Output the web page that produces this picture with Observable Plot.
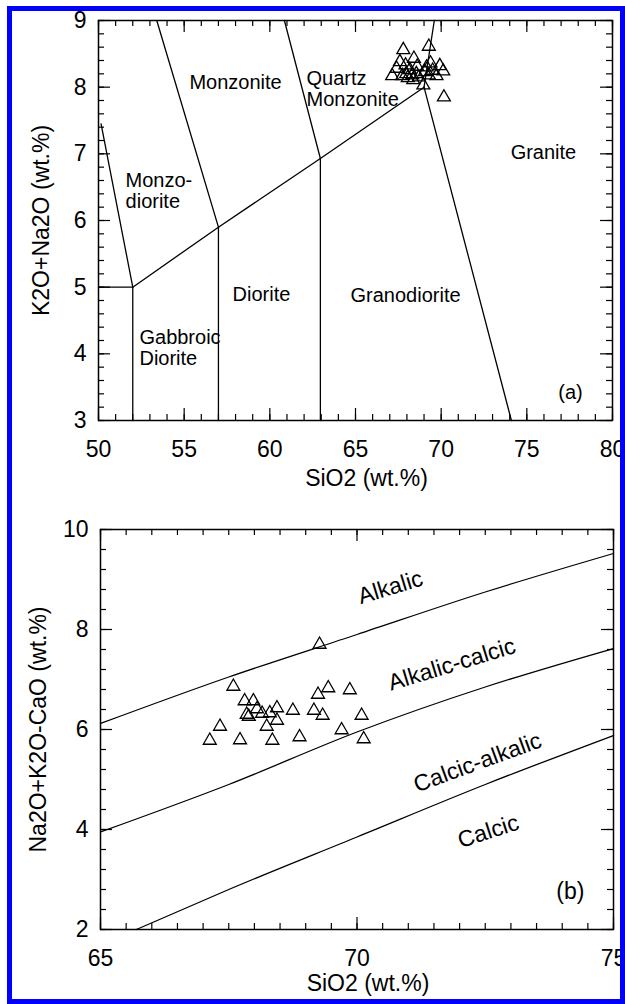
<!DOCTYPE html>
<html><head><meta charset="utf-8">
<script src="https://cdn.jsdelivr.net/npm/d3@7"></script>
<script src="https://cdn.jsdelivr.net/npm/@observablehq/plot@0.6"></script>
<style>
html,body{margin:0;padding:0;background:#fff;}
#wrap{position:relative;width:625px;height:1004px;overflow:hidden;background:#fff;}
#a{position:absolute;left:0;top:0;}
#b{position:absolute;left:0;top:500px;}
#border{position:absolute;left:7px;top:6px;width:618px;height:998px;border:5px solid #0000ff;box-sizing:border-box;z-index:10;pointer-events:none;}
</style></head><body>
<div id="wrap"><div id="a"></div><div id="b"></div><div id="border"></div></div>
<script>
// ---------- Panel (a): TAS plutonic classification ----------
const tasSiO2 = [67.79,69.28,68.41,67.59,67.40,67.92,68.17,68.60,69.38,69.92,70.12,67.14,67.73,68.31,69.05,69.28,69.73,68.37,68.96,70.16,68.70,67.96,68.05,69.50,68.55,69.15];
const tasAlk  = [8.56,8.61,8.43,8.38,8.28,8.33,8.26,8.31,8.36,8.32,8.24,8.17,8.17,8.18,8.23,8.18,8.17,8.11,8.03,7.85,8.15,8.20,8.14,8.25,8.20,8.30];

// field boundaries (SiO2, K2O+Na2O), one id per polyline
const tasBoundaryId   = ["b1","b1","b2","b2","b2","b3","b3","b3","b3","b4","b4","b5","b5","b6","b6","b7","b7","b8","b8","b9","b9"];
const tasBoundarySiO2 = [50.15,52, 50,52,52, 52,57,62.95,69, 53.4,57, 60.85,62.95, 69.6,69, 69,74.1, 57,57, 62.95,62.95];
const tasBoundaryAlk  = [7.45,5, 5,5,3, 5,5.9,6.93,8.0, 9,5.9, 9,6.93, 9,8.0, 8.0,3, 5.9,3, 6.93,3];

const tasLabelText = ["Monzonite","Quartz\nMonzonite","Monzo-\ndiorite","Diorite","Granodiorite","Granite","Gabbroic\nDiorite","(a)"];
const tasLabelSiO2 = [58.0, 62.14, 51.58, 59.51, 67.92, 75.97, 52.39, 77.55];
const tasLabelAlk  = [8.07, 7.97, 6.45, 4.90, 4.875, 7.02, 4.09, 3.42];
const tasLabelAnchor = ["middle","start","start","middle","middle","middle","start","middle"];

const xTicksA = [50,55,60,65,70,75,80];
const yTicksA = [3,4,5,6,7,8,9];

// ---------- Panel (b): MALI ----------
const maliSiO2 = [69.27,67.59,67.81,67.98,68.05,67.89,68.15,68.30,68.44,68.44,68.24,67.33,67.13,67.72,68.35,68.75,68.88,69.16,69.24,69.44,69.33,69.86,69.70,70.09,70.13,67.85];
const maliVal  = [7.70,6.86,6.57,6.57,6.41,6.26,6.32,6.33,6.43,6.18,6.06,6.06,5.78,5.79,5.78,6.38,5.85,6.38,6.70,6.83,6.28,6.79,5.99,6.28,5.81,6.30];

const curveSiO2       = [65, 67.5, 70, 72.5, 75];
const alkalicCurve    = [6.12, 7.05, 7.90, 8.75, 9.52];
const alkCalcCurve    = [3.95, 4.90, 5.95, 6.85, 7.62];
const calcicCurveSiO2 = [65.7, 67.5, 70, 72.5, 75];
const calcicCurve     = [2.00, 2.80, 3.85, 4.90, 5.88];

const maliLabelText = ["Alkalic","Alkalic-calcic","Calcic-alkalic","Calcic","(b)"];
const maliLabelSiO2 = [70.65, 71.85, 72.35, 72.56, 74.16];
const maliLabelVal  = [8.84, 7.30, 5.34, 3.96, 2.76];
const maliLabelRot  = [-17, -17, -20, -18, 0];

const xTicksB = [65,70,75];
const yTicksB = [2,4,6,8,10];

const FONT = "'Liberation Sans', Arial, Helvetica, sans-serif";

function frameTicks(xMinor, xMajor, yMinor, yMajor, innerW, innerH) {
  const minor = 6, major = 12, sw = 1.2;
  const o = {stroke: "black", strokeWidth: sw};
  return [
    Plot.tickX(xMinor, {x: d => d, insetTop: innerH - minor, ...o}),
    Plot.tickX(xMinor, {x: d => d, insetBottom: innerH - minor, ...o}),
    Plot.tickX(xMajor, {x: d => d, insetTop: innerH - major, ...o}),
    Plot.tickX(xMajor, {x: d => d, insetBottom: innerH - major, ...o}),
    Plot.tickY(yMinor, {y: d => d, insetRight: innerW - minor, ...o}),
    Plot.tickY(yMinor, {y: d => d, insetLeft: innerW - minor, ...o}),
    Plot.tickY(yMajor, {y: d => d, insetRight: innerW - major, ...o}),
    Plot.tickY(yMajor, {y: d => d, insetLeft: innerW - major, ...o}),
    Plot.frame({stroke: "black", strokeWidth: 1.5})
  ];
}

// Panel (a)
{
  const W = 625, H = 500, mL = 98, mR = 13, mT = 20, mB = 80;
  const boundaries = tasBoundaryId.map((id, i) => ({id, x: tasBoundarySiO2[i], y: tasBoundaryAlk[i]}));
  const pts = tasSiO2.map((x, i) => ({x, y: tasAlk[i]}));
  const labels = tasLabelText.map((t, i) => ({t, x: tasLabelSiO2[i], y: tasLabelAlk[i], a: tasLabelAnchor[i]}));
  const plot = Plot.plot({
    width: W, height: H, marginLeft: mL, marginRight: mR, marginTop: mT, marginBottom: mB,
    style: {fontFamily: FONT, color: "black", background: "white", overflow: "visible"},
    x: {domain: [50, 80]},
    y: {domain: [3, 9]},
    marks: [
      Plot.line(boundaries, {x: "x", y: "y", z: "id", stroke: "black", strokeWidth: 1.3}),
      ...["start","middle"].map(a => Plot.text(labels.filter(d => d.a === a), {x: "x", y: "y", text: "t", textAnchor: a, fontSize: 20, lineHeight: 1.05, fill: "black"})),
      Plot.dot(pts, {x: "x", y: "y", symbol: "triangle", r: 4.8, stroke: "black", fill: "none", strokeWidth: 1.3}),
      ...frameTicks(d3.range(50, 80.001, 1), xTicksA, d3.range(3, 9.001, 0.2), yTicksA, W - mL - mR, H - mT - mB),
      Plot.axisX(xTicksA, {tickSize: 0, tickPadding: 20, fontSize: 23, tickFormat: d => String(d), label: null}),
      Plot.axisY(yTicksA, {tickSize: 0, tickPadding: 12, fontSize: 23, tickFormat: d => String(d), label: null}),
      Plot.text(["SiO2 (wt.%)"], {frameAnchor: "bottom", dy: 58, dx: 11, textAnchor: "middle", lineAnchor: "middle", fontSize: 23, text: d => d}),
      Plot.text(["K2O+Na2O (wt.%)"], {frameAnchor: "left", dx: -57, rotate: -90, textAnchor: "middle", lineAnchor: "middle", fontSize: 23, text: d => d})
    ]
  });
  document.getElementById("a").appendChild(plot);
}

// Panel (b)
{
  const W = 625, H = 504, mL = 100, mR = 12, mT = 29, mB = 75;
  const curves = [
    ...curveSiO2.map((x, i) => ({id: "alk", x, y: alkalicCurve[i]})),
    ...curveSiO2.map((x, i) => ({id: "ac", x, y: alkCalcCurve[i]})),
    ...calcicCurveSiO2.map((x, i) => ({id: "ca", x, y: calcicCurve[i]}))
  ];
  const pts = maliSiO2.map((x, i) => ({x, y: maliVal[i]}));
  const labels = maliLabelText.map((t, i) => ({t, x: maliLabelSiO2[i], y: maliLabelVal[i], r: maliLabelRot[i]}));
  const plot = Plot.plot({
    width: W, height: H, marginLeft: mL, marginRight: mR, marginTop: mT, marginBottom: mB,
    style: {fontFamily: FONT, color: "black", background: "white", overflow: "visible"},
    x: {domain: [65, 75]},
    y: {domain: [2, 10]},
    marks: [
      Plot.line(curves, {x: "x", y: "y", z: "id", curve: "monotone-x", stroke: "black", strokeWidth: 1.3}),
      ...labels.map(d => Plot.text([d], {x: "x", y: "y", text: "t", rotate: d.r, fontSize: 23, fill: "black"})),
      Plot.dot(pts, {x: "x", y: "y", symbol: "triangle", r: 4.8, stroke: "black", fill: "none", strokeWidth: 1.3}),
      ...frameTicks(d3.range(65, 75.001, 0.5), xTicksB, d3.range(2, 10.001, 0.4), yTicksB, W - mL - mR, H - mT - mB),
      Plot.axisX(xTicksB, {tickSize: 0, tickPadding: 20, fontSize: 23, tickFormat: d => String(d), label: null}),
      Plot.axisY(yTicksB, {tickSize: 0, tickPadding: 12, fontSize: 23, tickFormat: d => String(d), label: null}),
      Plot.text(["SiO2 (wt.%)"], {frameAnchor: "bottom", dy: 54, dx: 11, textAnchor: "middle", lineAnchor: "middle", fontSize: 23, text: d => d}),
      Plot.text(["Na2O+K2O-CaO (wt.%)"], {frameAnchor: "left", dx: -62, rotate: -90, textAnchor: "middle", lineAnchor: "middle", fontSize: 23, text: d => d})
    ]
  });
  document.getElementById("b").appendChild(plot);
}
</script>
</body></html>
